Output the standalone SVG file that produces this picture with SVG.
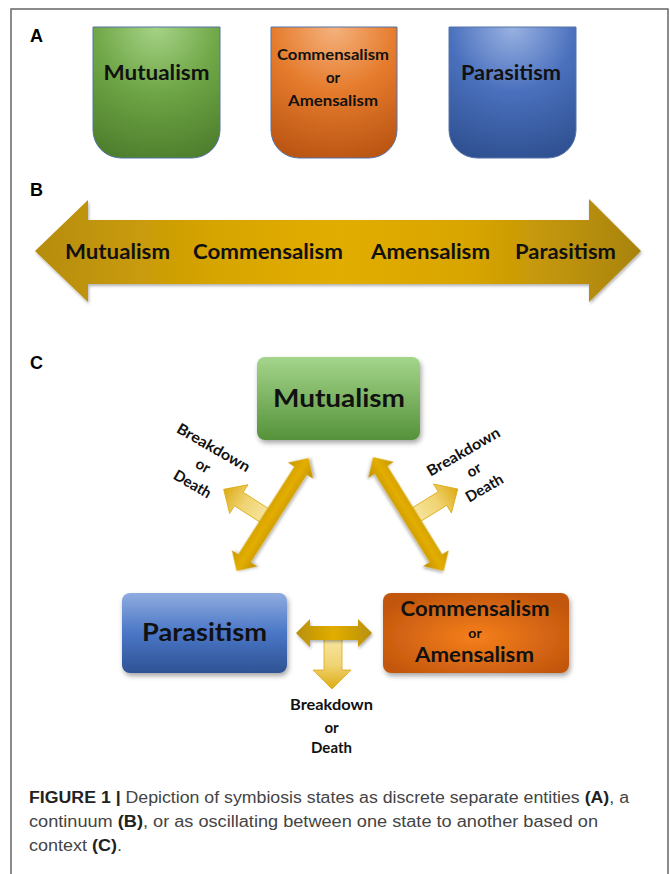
<svg xmlns="http://www.w3.org/2000/svg" width="670" height="874" viewBox="0 0 670 874">
<defs>
<style>
.lbl{font-family:"Liberation Sans",Arial,sans-serif;font-weight:bold;font-size:18px;fill:#000}
.t{font-family:Lato,"Open Sans",sans-serif;font-weight:bold;fill:#111;text-anchor:middle}
.cap{font-family:"Liberation Sans",Arial,sans-serif;font-size:16px;fill:#444}
.cap .b{font-weight:bold;fill:#222}
.frame{fill:none;stroke:#666;stroke-width:1.5}
</style>
<radialGradient id="gA" cx="0.5" cy="0" r="1.1"><stop offset="0" stop-color="#a6d387"/><stop offset="0.45" stop-color="#6fa646"/><stop offset="1" stop-color="#4a7a2a"/></radialGradient>
<radialGradient id="oA" cx="0.5" cy="0" r="1.1"><stop offset="0" stop-color="#f5b27e"/><stop offset="0.45" stop-color="#e57b2c"/><stop offset="1" stop-color="#b5500f"/></radialGradient>
<radialGradient id="bA" cx="0.5" cy="0" r="1.1"><stop offset="0" stop-color="#9ab2e2"/><stop offset="0.45" stop-color="#4a70bd"/><stop offset="1" stop-color="#2c4d8c"/></radialGradient>
<linearGradient id="goldH" x1="0" y1="0" x2="1" y2="0"><stop offset="0" stop-color="#b58c0c"/><stop offset="0.3" stop-color="#d7a504"/><stop offset="0.5" stop-color="#e2ad00"/><stop offset="0.72" stop-color="#d8a503"/><stop offset="1" stop-color="#a8830f"/></linearGradient>
<linearGradient id="goldS" x1="0" y1="0" x2="0" y2="1"><stop offset="0" stop-color="#c99700"/><stop offset="0.5" stop-color="#e3ae00"/><stop offset="1" stop-color="#c08f00"/></linearGradient>
<linearGradient id="goldL" x1="0" y1="0" x2="1" y2="0"><stop offset="0" stop-color="#b8900a"/><stop offset="0.5" stop-color="#e2ad00"/><stop offset="1" stop-color="#b8900a"/></linearGradient>
<linearGradient id="pale" x1="0" y1="0" x2="1" y2="0"><stop offset="0" stop-color="#f8e8a6"/><stop offset="0.55" stop-color="#f0d372"/><stop offset="1" stop-color="#dcaa12"/></linearGradient>
<linearGradient id="paleV" x1="0" y1="0" x2="0" y2="1"><stop offset="0" stop-color="#f8e8a6"/><stop offset="0.55" stop-color="#f0d372"/><stop offset="1" stop-color="#dcaa12"/></linearGradient>
<linearGradient id="gC" x1="0" y1="0" x2="0" y2="1"><stop offset="0" stop-color="#a4d58b"/><stop offset="1" stop-color="#55923a"/></linearGradient>
<linearGradient id="bC" x1="0" y1="0" x2="0" y2="1"><stop offset="0" stop-color="#8facdf"/><stop offset="0.5" stop-color="#4a76c6"/><stop offset="1" stop-color="#2e5394"/></linearGradient>
<radialGradient id="oC" cx="0.5" cy="0.55" r="0.6"><stop offset="0" stop-color="#f57f1c"/><stop offset="1" stop-color="#c2560e"/></radialGradient>
<filter id="sh" x="-20%" y="-20%" width="140%" height="150%"><feDropShadow dx="1.5" dy="3" stdDeviation="2.5" flood-color="#000" flood-opacity="0.35"/></filter>
<filter id="sh2" x="-20%" y="-30%" width="140%" height="160%"><feDropShadow dx="1" dy="2" stdDeviation="1.5" flood-color="#000" flood-opacity="0.3"/></filter>
<path id="dbl" d="M-67,0 L-52,-15 L-52,-7.5 L52,-7.5 L52,-15 L67,0 L52,15 L52,7.5 L-52,7.5 L-52,15 Z"/>
<path id="side" d="M0,-8 L37,-8 L37,-17 L55,0 L37,17 L37,8 L0,8 Z"/>
</defs>

<rect width="670" height="874" fill="#fff"/>
<path class="frame" d="M11,874 V9 H668 V874"/>

<!-- Panel labels -->
<text class="lbl" x="30" y="42">A</text>
<text class="lbl" x="30" y="196">B</text>
<text class="lbl" x="30" y="369">C</text>

<!-- Panel A -->
<g id="a-mutualism">
<path d="M93,27 H220 V130 A28,28 0 0 1 192,158 H121 A28,28 0 0 1 93,130 Z" fill="url(#gA)" stroke="#5572a8" stroke-width="1"/>
<text class="t" x="156.5" y="80" font-size="20" textLength="106" lengthAdjust="spacingAndGlyphs">Mutualism</text>
</g>
<g id="a-commensalism">
<path d="M271,27 H397 V130 A28,28 0 0 1 369,158 H299 A28,28 0 0 1 271,130 Z" fill="url(#oA)" stroke="#5572a8" stroke-width="1"/>
<text class="t" x="333" y="60" font-size="15" textLength="112" lengthAdjust="spacingAndGlyphs">Commensalism</text>
<text class="t" x="333" y="83" font-size="15">or</text>
<text class="t" x="333" y="106" font-size="15" textLength="90" lengthAdjust="spacingAndGlyphs">Amensalism</text>
</g>
<g id="a-parasitism">
<path d="M449,27 H576 V130 A28,28 0 0 1 548,158 H477 A28,28 0 0 1 449,130 Z" fill="url(#bA)" stroke="#5572a8" stroke-width="1"/>
<text class="t" x="511" y="80" font-size="20" textLength="100" lengthAdjust="spacingAndGlyphs">Parasitism</text>
</g>

<!-- Panel B -->
<g id="b-continuum">
<polygon points="35,251 88,200 88,220 589,220 589,199 641,251 589,302 589,284 88,284 88,302" fill="url(#goldH)" filter="url(#sh2)"/>
<text class="t" x="117.5" y="259" font-size="20" textLength="105" lengthAdjust="spacingAndGlyphs">Mutualism</text>
<text class="t" x="268" y="259" font-size="20" textLength="150" lengthAdjust="spacingAndGlyphs">Commensalism</text>
<text class="t" x="430.5" y="259" font-size="20" textLength="119" lengthAdjust="spacingAndGlyphs">Amensalism</text>
<text class="t" x="565.5" y="259" font-size="20" textLength="101" lengthAdjust="spacingAndGlyphs">Parasitism</text>
</g>

<!-- Panel C connectors -->
<g id="connectors">
<use href="#side" fill="url(#pale)" stroke="#dcaa12" stroke-width="0.8" transform="translate(270,519) rotate(-147.4)"/>
<use href="#side" fill="url(#pale)" stroke="#dcaa12" stroke-width="0.8" transform="translate(411,518) rotate(-31.8)"/>
<use href="#dbl" fill="url(#goldS)" filter="url(#sh2)" transform="translate(272.5,514.5) rotate(-57.4)"/>
<use href="#dbl" fill="url(#goldS)" filter="url(#sh2)" transform="translate(408.5,514) rotate(58.2)"/>
<path d="M324,636 H342 V670 H351 L332,689 L313,670 H324 Z" fill="url(#paleV)" stroke="#dcaa12" stroke-width="0.8"/>
<polygon points="296,633 310,619 310,626 358,626 358,619 372,633 358,647 358,640 310,640 310,647" fill="url(#goldL)" filter="url(#sh2)"/>
</g>

<!-- Panel C nodes -->
<g id="c-mutualism">
<rect x="257" y="357" width="163" height="83" rx="8" fill="url(#gC)" filter="url(#sh)"/>
<text class="t" x="339" y="407" font-size="24" textLength="132" lengthAdjust="spacingAndGlyphs">Mutualism</text>
</g>
<g id="c-parasitism">
<rect x="122" y="593" width="165" height="80" rx="8" fill="url(#bC)" filter="url(#sh)"/>
<text class="t" x="204.5" y="641" font-size="24" textLength="125" lengthAdjust="spacingAndGlyphs">Parasitism</text>
</g>
<g id="c-commensalism">
<rect x="383" y="593" width="186" height="80" rx="8" fill="url(#oC)" filter="url(#sh)"/>
<text class="t" x="475" y="616" font-size="20" textLength="149" lengthAdjust="spacingAndGlyphs">Commensalism</text>
<text class="t" x="475" y="638" font-size="14">or</text>
<text class="t" x="474.5" y="662" font-size="20" textLength="119" lengthAdjust="spacingAndGlyphs">Amensalism</text>
</g>

<!-- Breakdown labels -->
<g id="label-left" transform="rotate(30 203 466)">
<text class="t" x="203" y="450" font-size="15" textLength="82" lengthAdjust="spacingAndGlyphs">Breakdown</text>
<text class="t" x="203" y="471" font-size="15">or</text>
<text class="t" x="203" y="492" font-size="15">Death</text>
</g>
<g id="label-right" transform="rotate(-30 474 470)">
<text class="t" x="474" y="454" font-size="15" textLength="82" lengthAdjust="spacingAndGlyphs">Breakdown</text>
<text class="t" x="474" y="475" font-size="15">or</text>
<text class="t" x="474" y="496" font-size="15">Death</text>
</g>
<g id="label-bottom">
<text class="t" x="331.5" y="710" font-size="15" textLength="83" lengthAdjust="spacingAndGlyphs">Breakdown</text>
<text class="t" x="331.5" y="733" font-size="15">or</text>
<text class="t" x="331.5" y="753" font-size="15">Death</text>
</g>

<!-- Caption -->
<text class="cap" x="29" y="803" textLength="600" lengthAdjust="spacingAndGlyphs"><tspan class="b">FIGURE 1 |</tspan> Depiction of symbiosis states as discrete separate entities <tspan class="b">(A)</tspan>, a</text>
<text class="cap" x="29" y="827" textLength="569" lengthAdjust="spacingAndGlyphs">continuum <tspan class="b">(B)</tspan>, or as oscillating between one state to another based on</text>
<text class="cap" x="29" y="851" textLength="93" lengthAdjust="spacingAndGlyphs">context <tspan class="b">(C)</tspan>.</text>
</svg>
